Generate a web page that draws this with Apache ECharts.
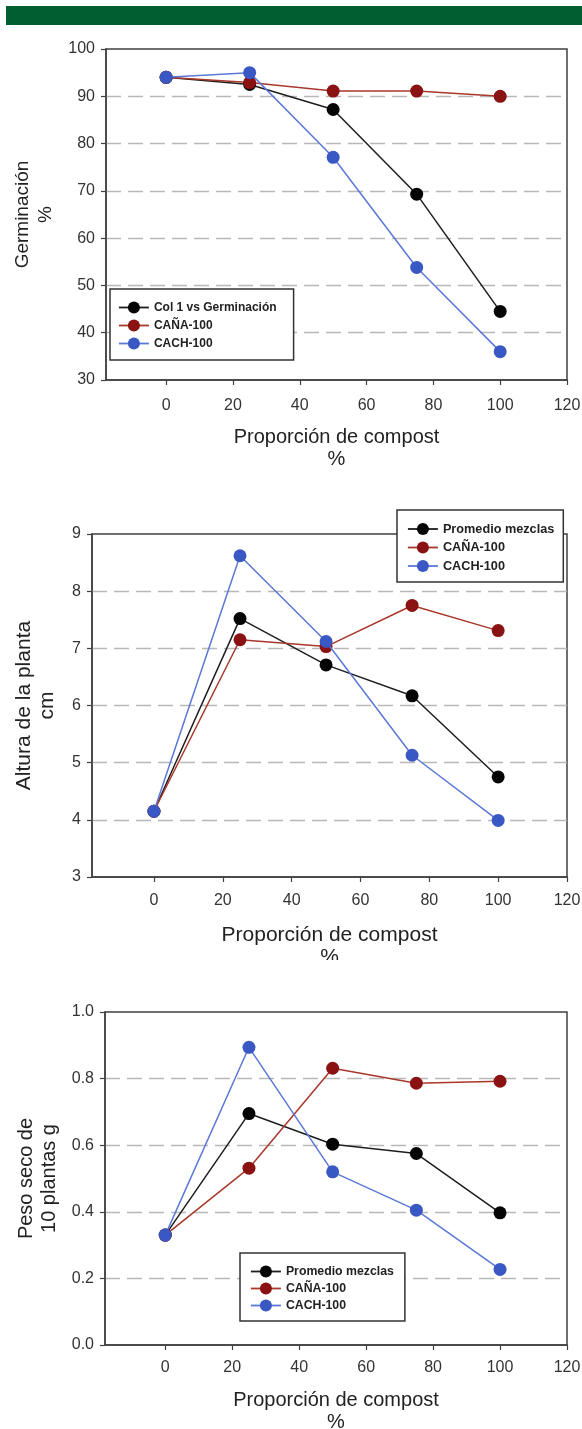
<!DOCTYPE html>
<html><head><meta charset="utf-8">
<script src="https://cdn.jsdelivr.net/npm/echarts@6/dist/echarts.min.js"></script>
<style>html,body{margin:0;padding:0;background:#fff}#c{width:582px;height:1429px}</style>
</head><body><div id="c"></div>
<script>
// Shared x categories (compost proportion, %)
const compost = [0, 25, 50, 75, 100];
const xTickValues = [0, 20, 40, 60, 80, 100, 120];

// Chart 1: Germinación %
const germCol1 = [94, 92.5, 87.2, 69.3, 44.5];
const germCana = [94, 92.9, 91.1, 91.1, 90.0];
const germCach = [94, 95.0, 77.1, 53.8, 36.0];

// Chart 2: Altura de la planta (cm)
const alturaProm = [4.15, 7.52, 6.71, 6.17, 4.75];
const alturaCana = [4.15, 7.15, 7.03, 7.75, 7.31];
const alturaCach = [4.15, 8.62, 7.12, 5.13, 3.99];

// Chart 3: Peso seco de 10 plantas (g)
const pesoProm = [0.33, 0.695, 0.603, 0.575, 0.397];
const pesoCana = [0.33, 0.531, 0.831, 0.786, 0.792];
const pesoCach = [0.33, 0.894, 0.520, 0.405, 0.227];

const names1 = ['Col 1 vs Germinación', 'CAÑA-100', 'CACH-100'];
const names23 = ['Promedio mezclas', 'CAÑA-100', 'CACH-100'];

const FONT = '"Liberation Sans", Arial, sans-serif';
const AX = '#404040';
const styles = [
  {marker: '#050505', line: '#1e1e1e'},
  {marker: '#8a1212', line: '#a8382a'},
  {marker: '#3a58c4', line: '#5b78d6'}
];

const grids = [
  {left: 106, top: 49, right: 15, height: 331},
  {left: 92, top: 534, right: 15, height: 343},
  {left: 105, top: 1012, right: 15, height: 333}
];

function pairs(vals) { return compost.map((x, i) => [x, vals[i]]); }

const yCfg = [
  {min: 30, max: 100, interval: 10, name: 'Germinación\n%', gap: 48, size: 19, fmt: v => String(v)},
  {min: 3, max: 9, interval: 1, name: 'Altura de la planta\ncm', gap: 33, size: 21, fmt: v => String(v)},
  {min: 0, max: 1, interval: 0.2, name: 'Peso seco de\n10 plantas g', gap: 44, size: 20, fmt: v => v.toFixed(1)}
];
const xNameCfg = [{gap: 46, size: 20, margin: 18}, {gap: 47, size: 21, margin: 16}, {gap: 44, size: 20, margin: 15}];

const xAxes = grids.map((g, i) => ({
  type: 'value', gridIndex: i, min: -18, max: 120,
  name: 'Proporción de compost\n%', nameLocation: 'middle', nameGap: xNameCfg[i].gap,
  nameTextStyle: {fontFamily: FONT, fontSize: xNameCfg[i].size, color: '#222', lineHeight: 22},
  axisLine: {show: true, onZero: false, lineStyle: {color: AX, width: 1.5}},
  axisTick: {show: true, inside: false, length: 5, lineStyle: {color: AX, width: 1.2}, customValues: xTickValues},
  axisLabel: {fontFamily: FONT, fontSize: 16, color: '#333', margin: xNameCfg[i].margin, customValues: xTickValues},
  splitLine: {show: false}
}));

const yAxes = yCfg.map((c, i) => ({
  type: 'value', gridIndex: i, min: c.min, max: c.max, interval: c.interval,
  name: c.name, nameLocation: 'middle', nameRotate: 90, nameGap: c.gap,
  nameTextStyle: {fontFamily: FONT, fontSize: c.size, color: '#222', lineHeight: 23},
  axisLine: {show: true, onZero: false, lineStyle: {color: AX, width: 1.5}},
  axisTick: {show: true, inside: false, length: 5, lineStyle: {color: AX, width: 1.2}},
  axisLabel: {fontFamily: FONT, fontSize: 16, color: '#333', margin: 11, formatter: c.fmt},
  splitLine: {show: true, showMinLine: false, showMaxLine: false,
    lineStyle: {color: '#b8b8b8', width: 1.3, type: [15, 7]}}
}));

function mk(name, vals, gi, k) {
  return {
    type: 'line', name: name, xAxisIndex: gi, yAxisIndex: gi,
    data: pairs(vals), symbol: 'circle', symbolSize: 13, showSymbol: true,
    itemStyle: {color: styles[k].marker},
    lineStyle: {color: styles[k].line, width: 1.5},
    z: 2 + k
  };
}

const series = [
  mk(names1[0], germCol1, 0, 0), mk(names1[1], germCana, 0, 1), mk(names1[2], germCach, 0, 2),
  mk(names23[0], alturaProm, 1, 0), mk(names23[1], alturaCana, 1, 1), mk(names23[2], alturaCach, 1, 2),
  mk(names23[0], pesoProm, 2, 0), mk(names23[1], pesoCana, 2, 1), mk(names23[2], pesoCach, 2, 2)
];

function legend(data, left, top, padding, gap, fs) {
  return {
    data: data, orient: 'vertical', left: left, top: top, padding: padding,
    itemWidth: 30, itemHeight: 15, itemGap: gap,
    backgroundColor: '#fff', borderColor: '#333', borderWidth: 1.5,
    selectedMode: false, z: 10,
    itemStyle: {borderWidth: 0},
    lineStyle: {width: 1.8},
    textStyle: {fontFamily: FONT, fontSize: fs, fontWeight: 'bold', color: '#222'}
  };
}

const option = {
  animation: false,
  backgroundColor: '#fff',
  grid: grids.map(g => Object.assign({show: true, borderColor: AX, borderWidth: 1.5, backgroundColor: 'transparent', containLabel: false, outerBoundsMode: 'none'}, g)),
  xAxis: xAxes,
  yAxis: yAxes,
  legend: [
    legend(names1, 110, 289, [12.5, 17, 10.5, 8], 6, 12),
    legend(names23, 397, 510, [12.5, 9, 9.5, 10], 5.5, 12.7),
    legend(names23, 240, 1253, [12.5, 11, 9.5, 10], 5, 12.3)
  ],
  graphic: [
    {type: 'rect', left: 6, top: 6, shape: {width: 576, height: 19}, style: {fill: '#005e31'}, z: 100},
    {type: 'rect', left: 0, top: 960, shape: {width: 582, height: 28}, style: {fill: '#fff'}, z: 100}
  ],
  series: series
};

const chart = echarts.init(document.getElementById('c'), null, {renderer: 'canvas'});
chart.setOption(option);
</script>
</body></html>
